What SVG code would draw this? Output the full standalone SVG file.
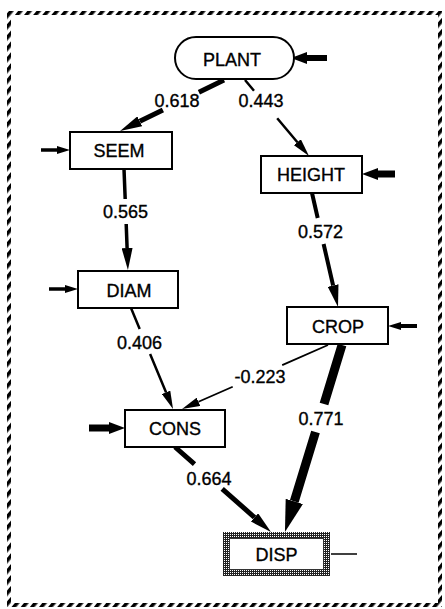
<svg xmlns="http://www.w3.org/2000/svg" width="445" height="609" viewBox="0 0 445 609">
<style>
.box{fill:#fff;stroke:#000;stroke-width:2}
.t{font-family:"Liberation Sans",Arial,sans-serif;font-size:18px;fill:#000;stroke:#000;stroke-width:0.35;text-anchor:middle}
.e{fill:none;stroke:#000;stroke-linecap:butt}
</style>
<defs>
<pattern id="hatch" width="7" height="7" patternUnits="userSpaceOnUse" patternTransform="rotate(40)">
<rect x="0" y="0" width="3.6" height="7" fill="#000"/>
</pattern>
<pattern id="stip" width="2" height="2" patternUnits="userSpaceOnUse">
<rect width="2" height="2" fill="#222"/>
<rect width="1" height="1" fill="#fff"/>
</pattern>
<marker id="hA" markerUnits="userSpaceOnUse" viewBox="0 -4.5 18 9" markerWidth="18" markerHeight="9" refX="0" refY="0" orient="auto"><path d="M0,-4.5 L18,0 L0,4.5 Z" fill="#000"/></marker>
<marker id="hB" markerUnits="userSpaceOnUse" viewBox="0 -5.5 22 11" markerWidth="22" markerHeight="11" refX="0" refY="0" orient="auto"><path d="M0,-5.5 L22,0 L0,5.5 Z" fill="#000"/></marker>
<marker id="hC" markerUnits="userSpaceOnUse" viewBox="0 -9 32 18" markerWidth="32" markerHeight="18" refX="0" refY="0" orient="auto"><path d="M0,-9 L32,0 L0,9 Z" fill="#000"/></marker>
<marker id="iS" markerUnits="userSpaceOnUse" viewBox="0 -4 13 8" markerWidth="13" markerHeight="8" refX="0" refY="0" orient="auto"><path d="M0,-4 L13,0 L0,4 Z" fill="#000"/></marker>
<marker id="iL" markerUnits="userSpaceOnUse" viewBox="0 -6 16 12" markerWidth="16" markerHeight="12" refX="0" refY="0" orient="auto"><path d="M0,-6 L16,0 L0,6 Z" fill="#000"/></marker>
</defs>
<rect width="445" height="609" fill="#fff"/>
<path id="frame" d="M7,11 H442 V607 H7 Z M11,15 V603 H438 V15 Z" fill="url(#hatch)" fill-rule="evenodd"/>

<g id="connectors">
<path class="e" stroke-width="5" d="M224,80 L198.9,92.3 M162.9,109.9 L139.8,121.3" marker-end="url(#hB)"/>
<path class="e" stroke-width="2.5" d="M245,80 L254,90.7 M277.2,118.2 L297.4,142.2" marker-end="url(#hA)"/>
<path class="e" stroke-width="3.5" d="M124,169 L125.2,199 M126.2,224 L127.1,248" marker-end="url(#hB)"/>
<path class="e" stroke-width="4" d="M312,193 L317.7,218 M323.6,244 L333.1,285.5" marker-end="url(#hB)"/>
<path class="e" stroke-width="2.5" d="M131,308 L139.7,329 M150.1,354 L166.1,392.4" marker-end="url(#hA)"/>
<path class="e" stroke-width="1.8" d="M328,345 L282.2,365.1 M232.7,386.8 L198.5,401.8" marker-end="url(#hA)"/>
<path class="e" stroke-width="9" d="M342,345 L324,404 M315.5,432 L294.3,501.4" marker-end="url(#hC)"/>
<path class="e" stroke-width="5" d="M175,447 L194.5,464.2 M222.2,488.8 L254.5,517.4" marker-end="url(#hB)"/>
<path class="e" stroke-width="6" d="M327,58 L307,58" marker-end="url(#iL)"/>
<path class="e" stroke-width="3.5" d="M41,150 L57,150" marker-end="url(#iS)"/>
<path class="e" stroke-width="7" d="M395,174 L378,174" marker-end="url(#iL)"/>
<path class="e" stroke-width="3.5" d="M49,289 L65,289" marker-end="url(#iS)"/>
<path class="e" stroke-width="4" d="M417,326 L401,326" marker-end="url(#iS)"/>
<path class="e" stroke-width="7" d="M89,428 L109,428" marker-end="url(#iL)"/>
<path class="e" stroke-width="1.5" d="M331,554 L357,554"/>
<text class="t" x="177" y="107">0.618</text>
<text class="t" x="261" y="107">0.443</text>
<text class="t" x="125.5" y="218">0.565</text>
<text class="t" x="320.5" y="238">0.572</text>
<text class="t" x="139.5" y="349">0.406</text>
<text class="t" x="260" y="383">-0.223</text>
<text class="t" x="321" y="425">0.771</text>
<text class="t" x="209" y="485">0.664</text>
</g>

<g id="PLANT">
<rect class="box" x="175" y="37" width="119" height="42" rx="21" ry="21"/>
<text class="t" x="232" y="66">PLANT</text>
</g>
<g id="SEEM">
<rect class="box" x="70" y="132" width="102" height="37"/>
<text class="t" x="119" y="157">SEEM</text>
</g>
<g id="HEIGHT">
<rect class="box" x="261" y="156" width="101" height="37"/>
<text class="t" x="311" y="181">HEIGHT</text>
</g>
<g id="DIAM">
<rect class="box" x="78" y="271" width="100" height="37"/>
<text class="t" x="129" y="297">DIAM</text>
</g>
<g id="CROP">
<rect class="box" x="287" y="307" width="101" height="37"/>
<text class="t" x="338" y="333">CROP</text>
</g>
<g id="CONS">
<rect class="box" x="125" y="410" width="100" height="37"/>
<text class="t" x="175" y="435">CONS</text>
</g>
<g id="DISP">
<rect x="223" y="532" width="107" height="44" fill="url(#stip)"/>
<rect x="229.5" y="538.5" width="94" height="31" fill="#fff" stroke="#333" stroke-width="1"/>
<text class="t" x="276.5" y="561">DISP</text>
</g>
</svg>
